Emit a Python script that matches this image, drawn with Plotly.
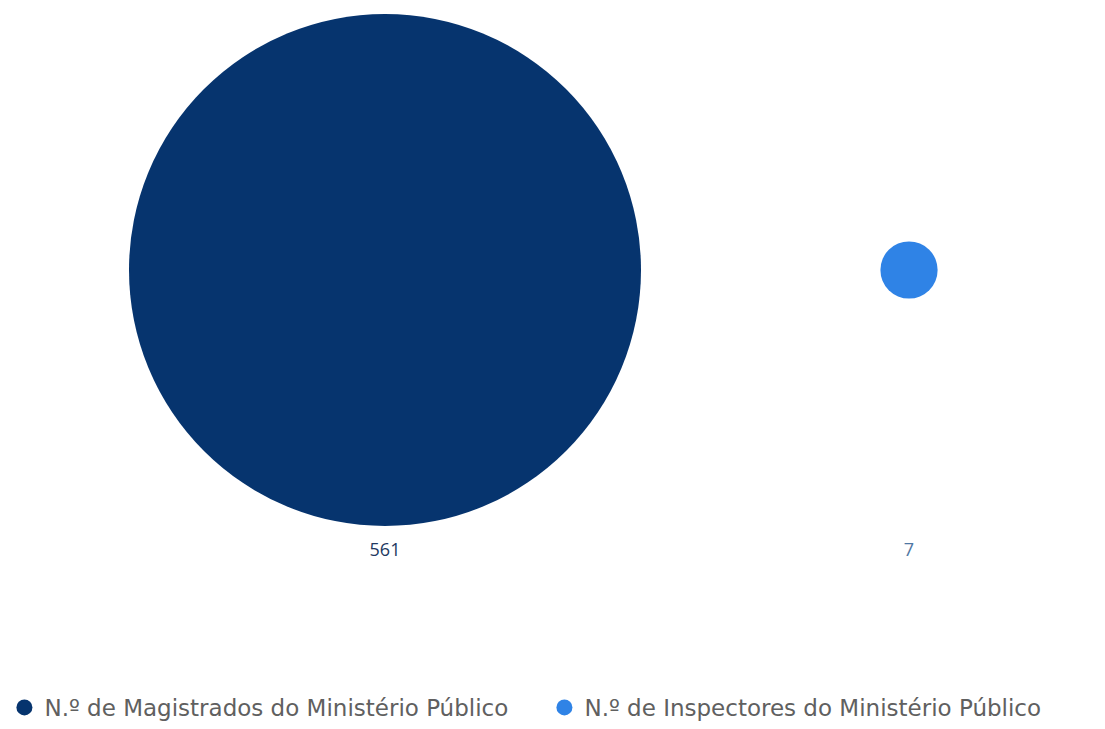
import plotly.graph_objects as go

categories = ["N.º de Magistrados do Ministério Público", "N.º de Inspectores do Ministério Público"]
values = [561, 7]
colors = ["#06346e", "#2f83e6"]
label_colors = ["#22385f", "#4f77a3"]

max_diam = 512
sizeref = 2.0 * max(values) / (max_diam ** 2)

fig = go.Figure()
for i, (cat, val) in enumerate(zip(categories, values)):
    fig.add_trace(go.Scatter(
        x=[i], y=[0], mode="markers", name=cat, legendgroup=cat, showlegend=False,
        marker=dict(size=[val], sizemode="area", sizeref=sizeref, color=colors[i],
                    opacity=1, line=dict(width=0)),
        hoverinfo="name+text", text=[str(val)],
    ))
    fig.add_trace(go.Scatter(
        x=[i], y=[-1.01], mode="text", text=[str(val)], showlegend=False,
        textfont=dict(size=18, color=label_colors[i], family="Open Sans"),
        hoverinfo="skip",
    ))
    # legend entry with a fixed-size swatch
    fig.add_trace(go.Scatter(
        x=[None], y=[None], mode="markers", name=cat, legendgroup=cat,
        marker=dict(size=16, color=colors[i]), hoverinfo="skip",
    ))

fig.update_layout(
    width=1105, height=729,
    margin=dict(l=0, r=0, t=0, b=0),
    paper_bgcolor="white", plot_bgcolor="white",
    xaxis=dict(range=[-0.7347, 1.374], visible=False, fixedrange=True),
    yaxis=dict(range=[-1.645, 0.9677], visible=False, fixedrange=True),
    legend=dict(orientation="h", x=0.004, y=0.0, xanchor="left", yanchor="bottom",
                font=dict(family="DejaVu Sans", size=23, color="#606060"),
                entrywidth=495, entrywidthmode="pixels",
                itemsizing="trace", bgcolor="rgba(0,0,0,0)"),
    font=dict(family="Open Sans"),
)

fig.write_html("out.html")
